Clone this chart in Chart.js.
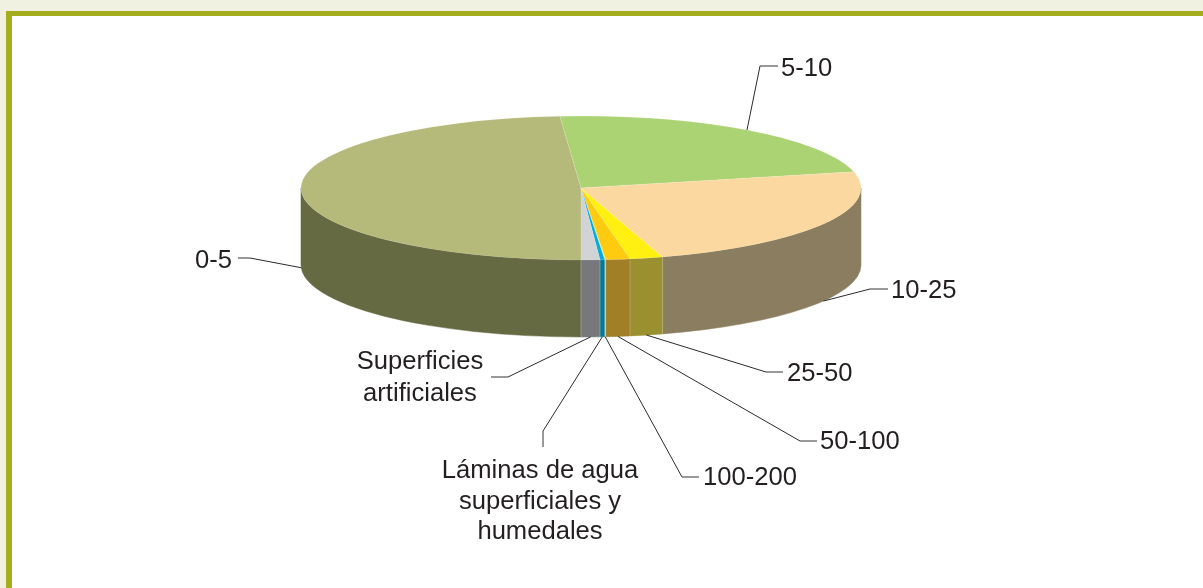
<!DOCTYPE html>
<html lang="es">
<head>
<meta charset="utf-8">
<title>Distribución por clases</title>
<script src="https://cdn.jsdelivr.net/npm/chart.js@4"></script>
<style>
html,body{margin:0;padding:0;width:1203px;height:588px;overflow:hidden;background:#f1f1e1;}
#frame{position:absolute;left:6px;top:11px;right:0;bottom:0;box-sizing:border-box;background:#fff;border-left:6px solid #a5ad1c;border-top:5px solid #a5ad1c;}
canvas{position:absolute;left:0;top:0;}
</style>
</head>
<body>
<div id="frame"></div>
<canvas id="c" width="1203" height="588"></canvas>
<script>
// Data
const categories = ["0-5","5-10","10-25","25-50","50-100","100-200","Láminas de agua superficiales y humedales","Superficies artificiales"];
const shares = [48.8,22.6,23.9,1.9,1.4,0.05,0.27,1.08];
// Styles
const topColors = ["#b5b979","#acd373","#fbd89f","#fff012","#ffcb10","#e8e4b0","#00aeda","#d1d3d4"];
const sideColors = ["#666a43","#6f8a47","#8a7d60","#9a9030","#a07f27","#c9c08a","#007a99","#77787b"];
// Label layout
const labelLines = [["0-5"],["5-10"],["10-25"],["25-50"],["50-100"],["100-200"],["Láminas de agua","superficiales y","humedales"],["Superficies","artificiales"]];
const labelLayout = [
 {elbow:[250,258],end:[238,258],x:195,align:"left",y:[261]},
 {elbow:[760,66],end:[778,66],x:781,align:"left",y:[69]},
 {elbow:[870,289],end:[888,289],x:891,align:"left",y:[291]},
 {elbow:[766,372],end:[783,372],x:787,align:"left",y:[374]},
 {elbow:[800,441],end:[817,441],x:820,align:"left",y:[442]},
 {elbow:[682,477],end:[699,477],x:703,align:"left",y:[478]},
 {elbow:[543,431],end:[543,447],x:540,align:"center",y:[471,502,532]},
 {elbow:[508,377],end:[491,377],x:420,align:"center",y:[362,394]}
];
const pie = {cx:581,cy:188,rx:280,ry:72,depth:77};

const norm = a => { const t = 2*Math.PI; return ((a%t)+t)%t; };
const ellipseAt = a => [pie.cx+pie.rx*Math.cos(a), pie.cy+pie.ry*Math.sin(a)];

const pie3d = {
  id:"pie3d",
  beforeDatasetsDraw(chart){
    const arcs = chart.getDatasetMeta(0).data, ctx = chart.ctx;
    // Extruded side, from each arc's own angles
    arcs.forEach((arc,i)=>{
      const span = arc.endAngle-arc.startAngle;
      const s0 = norm(arc.startAngle), segs=[[s0,s0+span],[s0-2*Math.PI,s0-2*Math.PI+span]];
      segs.forEach(([a,b])=>{
        const lo=Math.max(a,0), hi=Math.min(b,Math.PI);
        if(hi<=lo) return;
        ctx.save();
        ctx.beginPath();
        ctx.ellipse(pie.cx,pie.cy,pie.rx,pie.ry,0,lo,hi,false);
        ctx.ellipse(pie.cx,pie.cy+pie.depth,pie.rx,pie.ry,0,hi,lo,true);
        ctx.closePath();
        ctx.fillStyle=sideColors[i];
        ctx.fill();
        ctx.strokeStyle=sideColors[i];
        ctx.lineWidth=0.5;
        ctx.stroke();
        ctx.restore();
      });
    });
    // Pale seams between side faces
    arcs.forEach(arc=>{
      const a=norm(arc.endAngle);
      if(a>0 && a<Math.PI){
        const [x,y]=ellipseAt(a);
        ctx.save();
        ctx.strokeStyle="rgba(255,255,255,0.25)";
        ctx.lineWidth=1;
        ctx.beginPath();ctx.moveTo(x,y);ctx.lineTo(x,y+pie.depth);ctx.stroke();
        ctx.restore();
      }
    });
    // Squash the library's circular pie onto the ellipse
    const a0=arcs[0], R=a0.outerRadius;
    ctx.save();
    ctx.translate(pie.cx,pie.cy);
    ctx.scale(pie.rx/R,pie.ry/R);
    ctx.translate(-a0.x,-a0.y);
  },
  afterDatasetsDraw(chart){
    const ctx=chart.ctx;
    ctx.restore();
    const arcs=chart.getDatasetMeta(0).data;
    arcs.forEach((arc,i)=>{
      const mid=norm((arc.startAngle+arc.endAngle)/2);
      let [x,y]=ellipseAt(mid);
      if(mid>0 && mid<Math.PI) y+=pie.depth;
      const L=labelLayout[i];
      ctx.save();
      ctx.strokeStyle="#2a2a2a";
      ctx.lineWidth=1;
      ctx.beginPath();ctx.moveTo(x,y);ctx.lineTo(L.elbow[0],L.elbow[1]);ctx.stroke();
      ctx.strokeStyle="#777";
      ctx.lineWidth=1.5;
      ctx.beginPath();ctx.moveTo(L.elbow[0],L.elbow[1]);ctx.lineTo(L.end[0],L.end[1]);ctx.stroke();
      ctx.fillStyle="#231f20";
      ctx.font='25.6px "Liberation Sans", Arial, sans-serif';
      ctx.textAlign=L.align;
      ctx.textBaseline="middle";
      labelLines[i].forEach((t,k)=>ctx.fillText(t,L.x,L.y[k]));
      ctx.restore();
    });
  }
};

new Chart(document.getElementById("c"),{
  type:"pie",
  data:{labels:categories,datasets:[{data:shares,backgroundColor:topColors,borderColor:"rgba(255,255,255,0.2)",borderWidth:1}]},
  options:{
    responsive:false,animation:false,rotation:180,
    layout:{padding:0},
    plugins:{legend:{display:false},tooltip:{enabled:false},title:{display:false}}
  },
  plugins:[pie3d]
});
</script>
</body>
</html>
